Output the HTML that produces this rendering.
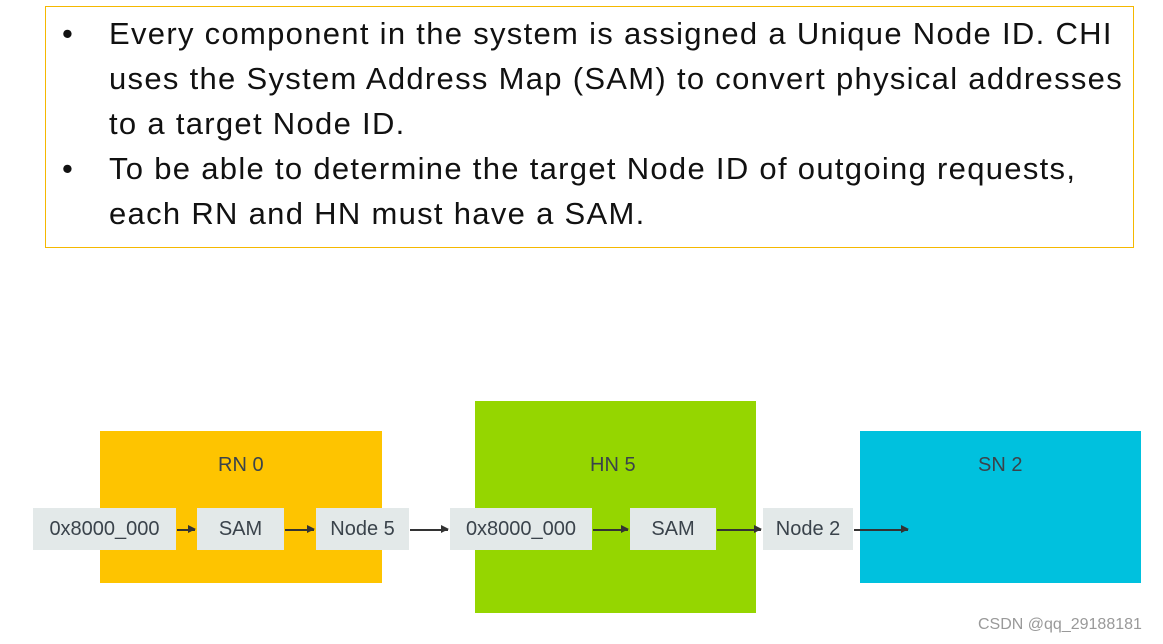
<!DOCTYPE html>
<html><head><style>
body{margin:0;width:1163px;height:644px;background:#fff;position:relative;overflow:hidden;font-family:"Liberation Sans",sans-serif}
.t{position:absolute;left:45px;top:6px;width:1089px;height:242px;border:1.5px solid #f5b800;box-sizing:border-box}
.l{position:absolute;font-size:31px;color:#111;white-space:nowrap;letter-spacing:1.3px}
.b{position:absolute}
.n{position:absolute;top:508px;height:42px;background:#e3e9e9;color:#3a434b;font-size:20px;line-height:42px;text-align:center}
.lab{position:absolute;font-size:20px;color:#3a434b}
.a{position:absolute;height:1.5px;background:#333}
.a:after{content:"";position:absolute;right:-1px;top:-4px;border-left:8px solid #333;border-top:4.5px solid transparent;border-bottom:4.5px solid transparent}
</style></head><body>
<div class="t"></div>
<div class="l" style="left:62px;top:16px">•</div>
<div class="l" style="left:109px;top:16px">Every component in the system is assigned a Unique Node ID. CHI</div>
<div class="l" style="left:109px;top:61px">uses the System Address Map (SAM) to convert physical addresses</div>
<div class="l" style="left:109px;top:106px">to a target Node ID.</div>
<div class="l" style="left:62px;top:151px">•</div>
<div class="l" style="left:109px;top:151px">To be able to determine the target Node ID of outgoing requests,</div>
<div class="l" style="left:109px;top:196px">each RN and HN must have a SAM.</div>

<div class="b" style="left:100px;top:431px;width:282px;height:152px;background:#fec400"></div>
<div class="b" style="left:475px;top:401px;width:281px;height:212px;background:#95d600"></div>
<div class="b" style="left:860px;top:431px;width:281px;height:152px;background:#00c1de"></div>
<div class="lab" style="left:218px;top:454px">RN 0</div>
<div class="lab" style="left:590px;top:454px">HN 5</div>
<div class="lab" style="left:978px;top:454px">SN 2</div>

<div class="n" style="left:33px;width:143px">0x8000_000</div>
<div class="n" style="left:197px;width:87px">SAM</div>
<div class="n" style="left:316px;width:93px">Node 5</div>
<div class="n" style="left:450px;width:142px">0x8000_000</div>
<div class="n" style="left:630px;width:86px">SAM</div>
<div class="n" style="left:763px;width:90px">Node 2</div>

<div class="a" style="left:177px;top:529px;width:18px"></div>
<div class="a" style="left:285px;top:529px;width:29px"></div>
<div class="a" style="left:410px;top:529px;width:38px"></div>
<div class="a" style="left:593px;top:529px;width:35px"></div>
<div class="a" style="left:717px;top:529px;width:44px"></div>
<div class="a" style="left:854px;top:529px;width:54px"></div>

<div style="position:absolute;left:978px;top:616px;font-size:16px;color:#999">CSDN @qq_29188181</div>
</body></html>
